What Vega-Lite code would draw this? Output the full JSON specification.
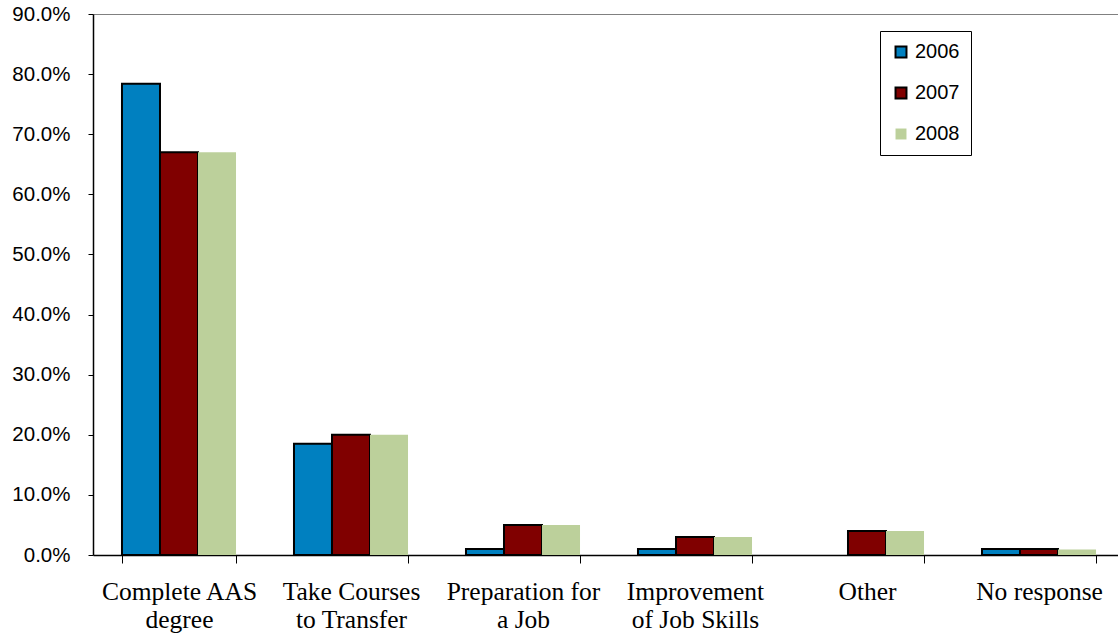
{
  "$schema": "https://vega.github.io/schema/vega-lite/v6.json",
  "width": 1032,
  "height": 541,
  "autosize": {"type": "none"},
  "padding": {"left": 93, "top": 14, "right": 0, "bottom": 81},
  "background": "white",
  "config": {"view": {"stroke": null}},
  "data": {
    "values": [
      {"category": "Complete AAS|degree", "year": "2006", "value": 0.784},
      {"category": "Complete AAS|degree", "year": "2007", "value": 0.670},
      {"category": "Complete AAS|degree", "year": "2008", "value": 0.670},
      {"category": "Take Courses|to Transfer", "year": "2006", "value": 0.185},
      {"category": "Take Courses|to Transfer", "year": "2007", "value": 0.200},
      {"category": "Take Courses|to Transfer", "year": "2008", "value": 0.200},
      {"category": "Preparation for|a Job", "year": "2006", "value": 0.010},
      {"category": "Preparation for|a Job", "year": "2007", "value": 0.050},
      {"category": "Preparation for|a Job", "year": "2008", "value": 0.050},
      {"category": "Improvement|of Job Skills", "year": "2006", "value": 0.010},
      {"category": "Improvement|of Job Skills", "year": "2007", "value": 0.030},
      {"category": "Improvement|of Job Skills", "year": "2008", "value": 0.030},
      {"category": "Other", "year": "2007", "value": 0.040},
      {"category": "Other", "year": "2008", "value": 0.040},
      {"category": "No response", "year": "2006", "value": 0.010},
      {"category": "No response", "year": "2007", "value": 0.010},
      {"category": "No response", "year": "2008", "value": 0.009}
    ]
  },
  "mark": {"type": "bar", "strokeWidth": 2},
  "encoding": {
    "x": {
      "field": "category",
      "type": "nominal",
      "sort": null,
      "title": null,
      "scale": {"paddingInner": 0.337, "paddingOuter": 0.1685},
      "axis": {
        "labelAngle": 0,
        "labelExpr": "split(datum.label, '|')",
        "labelFont": "Liberation Serif",
        "labelFontSize": 25.5,
        "labelLineHeight": 28,
        "labelColor": "black",
        "labelPadding": 16,
        "tickBand": "extent",
        "tickSize": 8,
        "tickColor": "black",
        "domainColor": "black",
        "domainWidth": 1.5
      }
    },
    "xOffset": {"field": "year", "type": "nominal", "scale": {"paddingInner": 0, "paddingOuter": 0}},
    "y": {
      "field": "value",
      "type": "quantitative",
      "title": null,
      "scale": {"domain": [0, 0.9], "nice": false},
      "axis": {
        "values": [0, 0.1, 0.2, 0.3, 0.4, 0.5, 0.6, 0.7, 0.8, 0.9],
        "format": ".1%",
        "labelFont": "Liberation Sans",
        "labelFontSize": 20.5,
        "labelColor": "black",
        "labelPadding": 18,
        "tickSize": 5,
        "tickColor": "black",
        "domainColor": "black",
        "domainWidth": 1.5,
        "grid": true,
        "gridColor": "#808080",
        "gridOpacity": {"condition": {"test": "datum.value >= 0.89", "value": 1}, "value": 0}
      }
    },
    "color": {
      "field": "year",
      "type": "nominal",
      "scale": {"domain": ["2006", "2007", "2008"], "range": ["#0080C0", "#800000", "#BCD09B"]},
      "legend": {
        "title": null,
        "orient": "none",
        "legendX": 787,
        "legendY": 17,
        "labelFont": "Liberation Sans",
        "labelFontSize": 20,
        "labelColor": "black",
        "symbolType": "square",
        "symbolSize": 120,
        "symbolStrokeWidth": 2,
        "rowPadding": 21,
        "labelOffset": 4,
        "strokeColor": "black",
        "padding": 11,
        "fillColor": "white"
      }
    },
    "stroke": {
      "field": "year",
      "type": "nominal",
      "scale": {"domain": ["2006", "2007", "2008"], "range": ["black", "black", "transparent"]},
      "legend": null
    }
  }
}
